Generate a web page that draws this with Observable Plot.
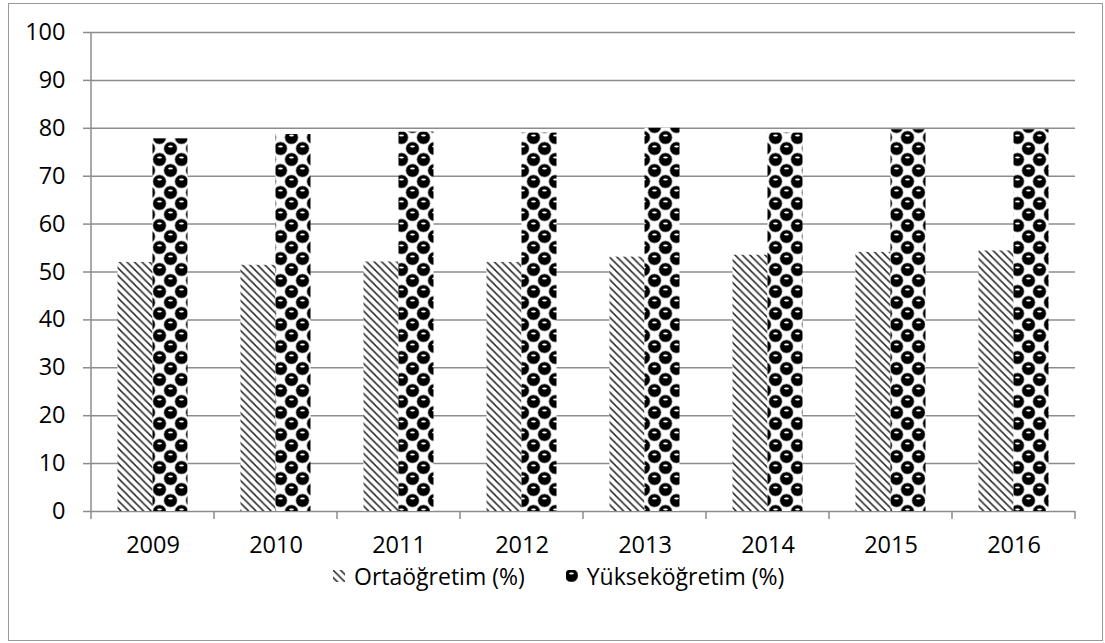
<!DOCTYPE html>
<html><head><meta charset="utf-8">
<script src="https://cdn.jsdelivr.net/npm/d3@7"></script>
<script src="https://cdn.jsdelivr.net/npm/@observablehq/plot@0.6"></script>
<style>
body{margin:0;background:#fff;width:1105px;height:643px;position:relative;overflow:hidden;font-family:"Open Sans",sans-serif;color:#000;}
#frame{position:absolute;left:8px;top:3px;width:1095px;height:638px;border:1.5px solid #9a9a9a;box-sizing:border-box;}
#chart{position:absolute;left:0;top:0;}
#legend{position:absolute;top:561px;left:333px;display:flex;align-items:center;font-size:23px;line-height:30px;white-space:nowrap;}
#legend .item{display:flex;align-items:center;}
#legend svg{margin-right:9px;}
</style></head><body>
<svg width="0" height="0" style="position:absolute">
  <defs>
    <pattern id="pOrta" width="7.5" height="7.5" patternUnits="userSpaceOnUse">
      <rect width="7.5" height="7.5" fill="#fff"/>
      <path d="M-1,-1 L8.5,8.5 M-1,6.5 L1,8.5 M6.5,-1 L8.5,1" stroke="#2a2a2a" stroke-width="1.5"/>
    </pattern>
    <pattern id="pYuk" width="22" height="22" patternUnits="userSpaceOnUse">
      <rect width="22" height="22" fill="#fff"/>
      <circle cx="5.5" cy="5.5" r="6.6" fill="#000" stroke="#888" stroke-width="0.7"/>
      <circle cx="16.5" cy="16.5" r="6.6" fill="#000" stroke="#888" stroke-width="0.7"/>
      <circle cx="16.5" cy="-5.5" r="6.6" fill="#000" stroke="#888" stroke-width="0.7"/>
      <circle cx="-5.5" cy="16.5" r="6.6" fill="#000" stroke="#888" stroke-width="0.7"/>
      <circle cx="27.5" cy="5.5" r="6.6" fill="#000" stroke="#888" stroke-width="0.7"/>
      <circle cx="5.5" cy="27.5" r="6.6" fill="#000" stroke="#888" stroke-width="0.7"/>
      <ellipse cx="5.5" cy="3.4" rx="2.4" ry="1" fill="#fff"/>
      <ellipse cx="16.5" cy="14.4" rx="2.4" ry="1" fill="#fff"/>
    </pattern>
  </defs>
</svg>
<div id="frame"></div>
<div id="chart"></div>
<div id="legend"></div>
<script>
const years = ["2009","2010","2011","2012","2013","2014","2015","2016"];
const ortaogretim = [52.0, 51.4, 52.1, 52.0, 53.1, 53.5, 54.1, 54.4];
const yuksekogretim = [77.8, 78.7, 79.2, 79.0, 80.0, 79.0, 79.7, 79.7];
const seriesNames = ["Ortaöğretim (%)", "Yükseköğretim (%)"];
const seriesFills = ["url(#pOrta)", "url(#pYuk)"];
const yTicks = [0, 10, 20, 30, 40, 50, 60, 70, 80, 90, 100];

const rows = years.flatMap((yr, i) => [
  {year: yr, series: seriesNames[0], value: ortaogretim[i]},
  {year: yr, series: seriesNames[1], value: yuksekogretim[i]}
]);

const gridColor = "#8c8c8c";
const plot = Plot.plot({
  width: 1105, height: 560,
  marginLeft: 91, marginRight: 30, marginTop: 32, marginBottom: 49,
  style: {fontFamily: "Open Sans", fontSize: "23.5px", color: "#000", background: "transparent", overflow: "visible"},
  x: {domain: years, padding: 0, label: null},
  y: {domain: [0, 100], label: null},
  marks: [
    Plot.ruleY(yTicks, {stroke: gridColor, strokeWidth: 1.5}),
    Plot.axisY(yTicks, {tickSize: 8, tickPadding: 18, stroke: gridColor, strokeWidth: 1.5, label: null, fill: "#000", fontSize: 23.5}),
    Plot.axisX({tickSize: 0, tickPadding: 25, label: null, fill: "#000", fontSize: 23.5}),
    Plot.barY(rows.filter(d => d.series === seriesNames[0]), {x: "year", y: "value", fill: seriesFills[0], insetLeft: 26.5, insetRight: 61.5}),
    Plot.barY(rows.filter(d => d.series === seriesNames[1]), {x: "year", y: "value", fill: seriesFills[1], insetLeft: 61.5, insetRight: 26.5})
  ]
});
document.getElementById("chart").appendChild(plot);

// axis line and category boundary ticks from the scales
const xs = plot.scale("x"), ys = plot.scale("y");
const svg = d3.select(plot);
const g = svg.append("g").attr("stroke", gridColor).attr("stroke-width", 1.5);
const y0 = ys.apply(0), y100 = ys.apply(100);
const x0 = xs.apply(years[0]);
g.append("line").attr("x1", x0).attr("x2", x0).attr("y1", y100).attr("y2", y0);
const bounds = years.map(d => xs.apply(d)).concat([xs.apply(years[years.length - 1]) + xs.bandwidth]);
bounds.forEach(b => g.append("line").attr("x1", b).attr("x2", b).attr("y1", y0).attr("y2", y0 + 8));

// legend
const leg = d3.select("#legend");
seriesNames.forEach((name, i) => {
  const it = leg.append("div").attr("class", "item").style("margin-left", i ? "41px" : "0px");
  const s = it.append("svg").attr("width", 12).attr("height", 12);
  s.append("rect").attr("width", 12).attr("height", 12).attr("fill", seriesFills[i]);
  it.append("span").text(name);
});
</script>
</body></html>
